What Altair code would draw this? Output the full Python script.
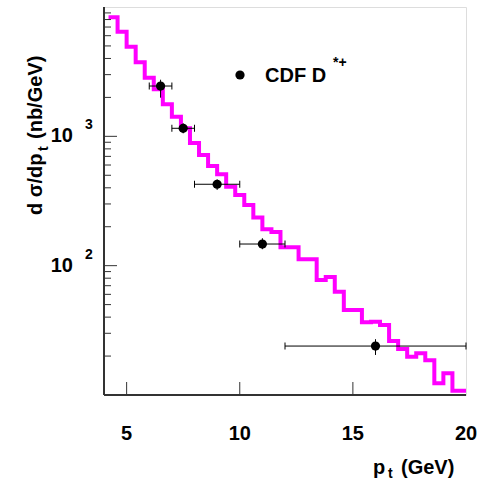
import altair as alt
import pandas as pd

# ---------------- data ----------------
hist_lo = [4.2, 4.6, 5.0, 5.4, 5.8, 6.2, 6.6, 7.0, 7.4, 7.8,
           8.2, 8.6, 9.0, 9.4, 9.8, 10.2, 10.6, 11.0, 11.4, 11.8,
           12.2, 12.6, 13.0, 13.4, 13.8, 14.2, 14.6, 15.0, 15.4, 15.8,
           16.2, 16.6, 17.0, 17.4, 17.8, 18.2, 18.6, 19.0, 19.4, 19.8]
hist_last_edge = 20.2
hist_vals = [8322, 6442, 4931, 3736, 2840, 2310, 1769, 1418, 1154, 888,
             717, 590, 509, 408, 352, 294, 236, 191, 182, 139,
             139, 112, 112, 77.5, 81.7, 62.9, 45.4, 45.4, 36.5, 36.9,
             34.8, 26.2, 22.7, 19.8, 21.0, 18.6, 12.3, 14.7, 10.8, 10.8]

cdf_pt = [6.5, 7.5, 9.0, 11.0, 16.0]
cdf_val = [2449, 1154, 426, 147, 23.9]
cdf_xlo = [6, 7, 8, 10, 12]
cdf_xhi = [7, 8, 10, 12, 20]
cdf_ylo = [1990, 1055, 385, 134, 20.4]
cdf_yhi = [2740, 1261, 465, 163, 27.0]

x_tick_vals = [5, 10, 15, 20]
y_major_ticks = [100, 1000]
y_major_sup = ["2", "3"]
y_minor_ticks = [20, 30, 40, 50, 60, 70, 80, 90,
                 200, 300, 400, 500, 600, 700, 800, 900,
                 2000, 3000, 4000, 5000, 6000, 7000, 8000, 9000]

# ---------------- tables ----------------
hist_df = pd.DataFrame({"x": hist_lo + [hist_last_edge],
                        "y": hist_vals + [hist_vals[-1]]})
pts = pd.DataFrame({"pt": cdf_pt, "val": cdf_val, "xlo": cdf_xlo,
                    "xhi": cdf_xhi, "ylo": cdf_ylo, "yhi": cdf_yhi})
caps = pd.DataFrame({"x": cdf_xlo + cdf_xhi, "y": cdf_val + cdf_val})
ymaj = pd.DataFrame({"v": y_major_ticks, "sup": y_major_sup})
ymin = pd.DataFrame({"v": y_minor_ticks})
xt = pd.DataFrame({"v": x_tick_vals, "lab": [str(v) for v in x_tick_vals]})
one = pd.DataFrame({"a": [0]})

W, H = 362, 388
FONT = "Liberation Sans"
xs = alt.Scale(domain=[4, 20], nice=False, zero=False)
ys = alt.Scale(type="log", domain=[10, 10000], nice=False)

X = lambda f: alt.X(f, scale=xs, axis=None)
Y = lambda f: alt.Y(f, scale=ys, axis=None)

hist = alt.Chart(hist_df).mark_line(
    interpolate="step-after", color="#ff00ff", strokeWidth=4,
    clip=True, strokeJoin="miter", strokeCap="butt"
).encode(x=X("x:Q"), y=Y("y:Q"))

xerr = alt.Chart(pts).mark_rule(color="black", strokeWidth=1, clip=True).encode(
    x=X("xlo:Q"), x2="xhi:Q", y=Y("val:Q"))
cap = alt.Chart(caps).mark_tick(orient="vertical", size=7, thickness=1,
                                color="black", opacity=1).encode(
    x=X("x:Q"), y=Y("y:Q"))
yerr = alt.Chart(pts).mark_rule(color="black", strokeWidth=1).encode(
    x=X("pt:Q"), y=Y("ylo:Q"), y2="yhi:Q")
dots = alt.Chart(pts).mark_circle(size=85, color="black", opacity=1).encode(
    x=X("pt:Q"), y=Y("val:Q"))

# frame lines (left & bottom axis)
left_line = alt.Chart(one).mark_rule(color="#333", strokeWidth=2).encode(
    x=alt.value(0), y=alt.value(0), y2=alt.value(H))
bottom_line = alt.Chart(one).mark_rule(color="#333", strokeWidth=2).encode(
    x=alt.value(0), x2=alt.value(W), y=alt.value(H))

# inward ticks
ymaj_t = alt.Chart(ymaj).mark_rule(color="#333", strokeWidth=1).encode(
    y=Y("v:Q"), x=alt.value(0), x2=alt.value(13))
ymin_t = alt.Chart(ymin).mark_rule(color="#333", strokeWidth=1).encode(
    y=Y("v:Q"), x=alt.value(0), x2=alt.value(7))
xt_t = alt.Chart(xt[xt.v < 20]).mark_rule(color="#333", strokeWidth=1).encode(
    x=X("v:Q"), y=alt.value(H), y2=alt.value(H - 13))

# tick labels
ylab = alt.Chart(ymaj).mark_text(font=FONT, fontWeight="bold", fontSize=20,
                                 align="right", baseline="middle").encode(
    y=Y("v:Q"), x=alt.value(-31), text=alt.value("10"))
ysup = alt.Chart(ymaj).mark_text(font=FONT, fontWeight="bold", fontSize=14,
                                 align="left", baseline="middle", dy=-11).encode(
    y=Y("v:Q"), x=alt.value(-19), text="sup:N")
xlab = alt.Chart(xt).mark_text(font=FONT, fontWeight="bold", fontSize=20,
                               align="center", baseline="alphabetic").encode(
    x=X("v:Q"), y=alt.value(433), text="lab:N")

def txt(s, x, y, size=20, angle=0, align="left", baseline="alphabetic"):
    return alt.Chart(one).mark_text(font=FONT, fontWeight="bold", fontSize=size,
                                    align=align, baseline=baseline, angle=angle,
                                    text=s).encode(x=alt.value(x), y=alt.value(y))

# axis titles
xtitle = [txt("p", 269, 467), txt("t", 284, 471, size=14), txt("(GeV)", 297, 467)]
ytitle = [txt("d σ/dp", -62, 208, angle=270), txt("t", -56, 144, size=14, angle=270),
          txt("(nb/GeV)", -62, 132, angle=270)]

# legend
leg_dot = alt.Chart(one).mark_circle(size=85, color="black", opacity=1).encode(
    x=alt.value(136), y=alt.value(68))
leg_txt = txt("CDF D", 161, 75)
leg_sup = txt("*+", 229, 60, size=14)

chart = alt.layer(
    hist, xerr, cap, yerr, dots, left_line, bottom_line, ymaj_t, ymin_t, xt_t,
    ylab, ysup, xlab, *xtitle, *ytitle, leg_dot, leg_txt, leg_sup
).properties(
    width=W, height=H,
    autosize=alt.AutoSizeParams(type="none"),
    padding={"left": 104, "top": 7, "right": 26, "bottom": 87},
).configure_view(stroke="#444", strokeWidth=1).configure(background="white")

chart.save("out.html", embed_options={"renderer": "svg", "actions": False})
